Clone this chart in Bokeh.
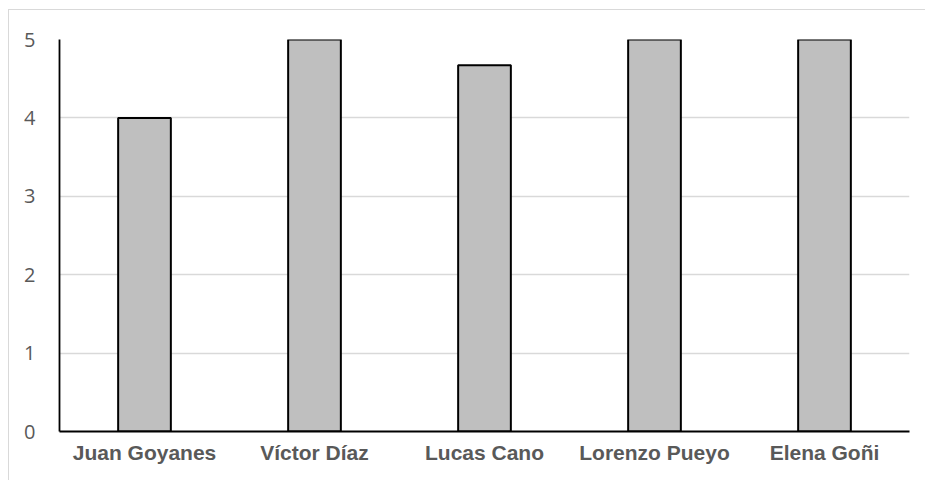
from bokeh.plotting import figure
from bokeh.models import Range1d, FixedTicker
from bokeh.embed import file_html
from bokeh.resources import INLINE

names = ["Juan Goyanes", "Víctor Díaz", "Lucas Cano", "Lorenzo Pueyo", "Elena Goñi"]
scores = [4, 5, 4.67, 5, 5]
y_ticks = [0, 1, 2, 3, 4, 5]

p = figure(x_range=names, y_range=Range1d(0, 5), width=917, height=471,
           output_backend="svg", toolbar_location=None,
           min_border_left=50, min_border_top=29, min_border_right=17, min_border_bottom=50)
p.styles = {"border-left": "1px solid #d9d9d9", "border-top": "1px solid #d9d9d9",
            "margin-left": "8px", "margin-top": "9px"}

p.vbar(x=names, top=scores, width=0.31, fill_color="#bfbfbf", line_color="black", line_width=2)

p.outline_line_color = None
p.xgrid.grid_line_color = None
p.ygrid.grid_line_color = "#d9d9d9"
p.ygrid.grid_line_width = 1.3
p.yaxis.ticker = FixedTicker(ticks=y_ticks)

for ax in (p.xaxis[0], p.yaxis[0]):
    ax.axis_line_color = "black"
    ax.axis_line_width = 1.8
    ax.major_tick_line_color = None
    ax.minor_tick_line_color = None
    ax.major_label_text_color = "#595959"

p.yaxis.major_label_text_font = "Open Sans"
p.yaxis.major_label_text_font_size = "20px"
p.yaxis.major_label_standoff = 18
p.xaxis.major_label_text_font = "Liberation Sans"
p.xaxis.major_label_text_font_style = "bold"
p.xaxis.major_label_text_font_size = "21px"
p.xaxis.major_label_standoff = 3

open("out.html", "w").write(file_html(p, INLINE))
